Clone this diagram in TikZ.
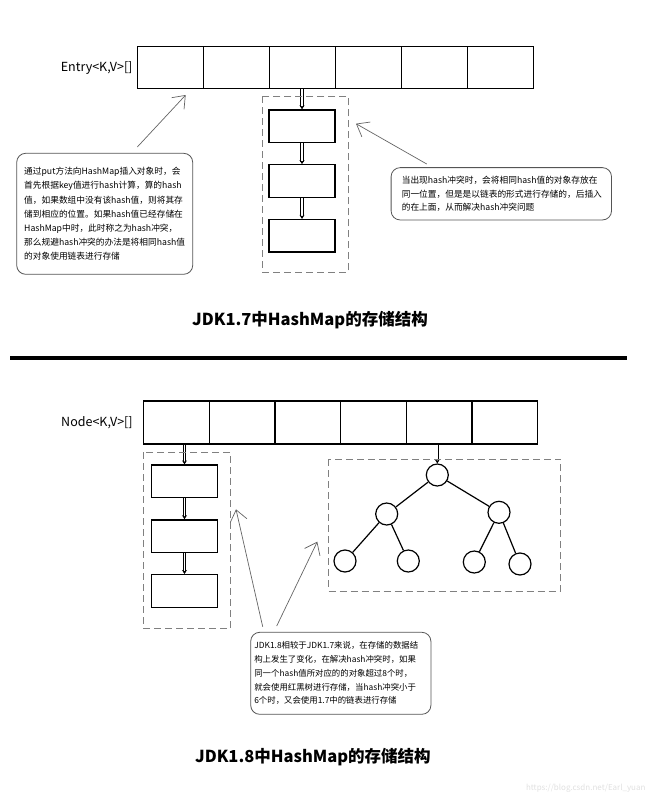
\documentclass[tikz,border=0pt]{standalone}
\usepackage{fontspec}
\setmainfont{Noto Sans CJK SC}
\usetikzlibrary{positioning,arrows.meta}

\definecolor{framegray}{RGB}{128,128,128}
\definecolor{pointgray}{RGB}{100,100,100}
\definecolor{notegray}{RGB}{85,85,85}

\tikzset{
  cell/.style={draw, line width=1.3pt, minimum width=66pt, minimum height=42pt, inner sep=0pt},
  arrlabel/.style={font=\fontsize{12.5}{14}\selectfont, inner sep=2pt},
  linkbox/.style={draw, line width=1.3pt, minimum width=66pt, minimum height=32.5pt, inner sep=0pt},
  linkarrow/.style={double, double distance=1.8pt, line width=0.9pt, -{Stealth[length=4pt,width=5pt]}},
  frame/.style={draw=framegray, line width=0.9pt, dash pattern=on 7pt off 4pt},
  pointer/.style={draw=pointgray, line width=0.7pt, -{Straight Barb[length=11pt,width=17pt]}},
  note/.style={draw=notegray, line width=0.8pt, rounded corners=9pt, align=left, font=\fontsize{8.7}{13.9}\selectfont},
  treenode/.style={draw, circle, line width=1.2pt, minimum size=22pt, inner sep=0pt},
  treeedge/.style={line width=1.2pt},
  title/.style={font=\fontsize{16.5}{20}\selectfont\bfseries}
}

\begin{document}
\begin{tikzpicture}[x=1pt,y=-1pt]
\useasboundingbox (0,0) rectangle (650,799);

% JDK1.7: Entry array with a linked list
\foreach \i in {1,...,6}
  \node[cell] (e\i) at ({104.3+66*\i},67.7) {};
\node[arrlabel, left=2pt of e1] (elabel) {Entry<K,V>[]};

\node[linkbox] (a1) at (302,126.2) {};
\node[linkbox, below=21pt of a1] (a2) {};
\node[linkbox, below=21pt of a2] (a3) {};
\draw[linkarrow] (a1.north |- e3.south) -- (a1.north);
\draw[linkarrow] (a1) -- (a2);
\draw[linkarrow] (a2) -- (a3);
\draw[frame] (262.3,96.3) rectangle (348.3,272.3);

\node[note, text width=161pt, minimum height=121pt, inner xsep=7.5pt] (putnote) at (104.7,213.8)
  {\fontsize{8.7}{14.3}\selectfont
   通过put方法向HashMap插入对象时，会\\
   首先根据key值进行hash计算，算的hash\\
   值，如果数组中没有该hash值，则将其存\\
   储到相应的位置。如果hash值已经存储在\\
   HashMap中时，此时称之为hash冲突，\\
   那么规避hash冲突的办法是将相同hash值\\
   的对象使用链表进行存储};
\coordinate (puttail) at (137.3,147);
\coordinate (puttip) at (185.7,95);
\draw[pointer] (puttail) -- (puttip);

\node[note, text width=199pt, minimum height=52.3pt, inner xsep=10.7pt] (listnote) at (501.3,193.8)
  {当出现hash冲突时，会将相同hash值的对象存放在\\
   同一位置，但是是以链表的形式进行存储的，后插入\\
   的在上面，从而解决hash冲突问题};
\coordinate (listtail) at (426.7,164);
\coordinate (listtip) at (356,123.7);
\draw[pointer] (listtail) -- (listtip);

\node[title] (title17) at (310,320) {JDK1.7中HashMap的存储结构};

% separator
\coordinate (sepl) at (10.4,358);
\coordinate (sepr) at (627,358);
\draw[line width=4.5pt] (sepl) -- (sepr);

% JDK1.8: Node array with a linked list and a tree
\foreach \i in {1,...,6}
  \node[cell, minimum width=65.7pt, minimum height=43pt] (n\i) at ({110.65+65.7*\i},422.5) {};
\node[arrlabel, left=8pt of n1] (nlabel) {Node<K,V>[]};

\node[linkbox] (b1) at (184.5,481.3) {};
\node[linkbox, below=21pt of b1] (b2) {};
\node[linkbox, below=21pt of b2] (b3) {};
\draw[linkarrow] (b1.north |- n1.south) -- (b1.north);
\draw[linkarrow] (b1) -- (b2);
\draw[linkarrow] (b2) -- (b3);
\draw[frame] (143.3,452.3) rectangle (230.7,628.3);

\node[treenode] (root) at (437.3,475) {};
\node[treenode] (tl) at (386.7,514) {};
\node[treenode] (tr) at (499,512.3) {};
\node[treenode] (tll) at (345,561) {};
\node[treenode] (tlr) at (408.3,561) {};
\node[treenode] (trl) at (474.3,562) {};
\node[treenode] (trr) at (520,564) {};
\draw[linkarrow] (root.north |- n5.south) -- (root.north);
\draw[treeedge] (root) -- (tl);
\draw[treeedge] (root) -- (tr);
\draw[treeedge] (tl) -- (tll);
\draw[treeedge] (tl) -- (tlr);
\draw[treeedge] (tr) -- (trl);
\draw[treeedge] (tr) -- (trr);
\draw[frame] (328.3,459.3) rectangle (560.7,591);

\node[note, text width=173pt, minimum height=82pt, inner xsep=3.6pt] (treenote) at (340.8,673.3)
  {\fontsize{8.4}{13.7}\selectfont
   JDK1.8相较于JDK1.7来说，在存储的数据结\\
   构上发生了变化，在解决hash冲突时，如果\\
   同一个hash值所对应的的对象超过8个时，\\
   就会使用红黑树进行存储，当hash冲突小于\\
   6个时，又会使用1.7中的链表进行存储};
\coordinate (treetaila) at (262.7,626.7);
\coordinate (treetipa) at (236,509.3);
\coordinate (treetailb) at (276.7,626);
\coordinate (treetipb) at (317.3,541.7);
\draw[pointer] (treetaila) -- (treetipa);
\draw[pointer] (treetailb) -- (treetipb);

\node[title] (title18) at (312.9,756.7) {JDK1.8中HashMap的存储结构};

\node[anchor=east, text=black!12, font=\fontsize{8}{10}\selectfont] (mark) at (649,788) {https://blog.csdn.net/Earl\_yuan};
\end{tikzpicture}
\end{document}
